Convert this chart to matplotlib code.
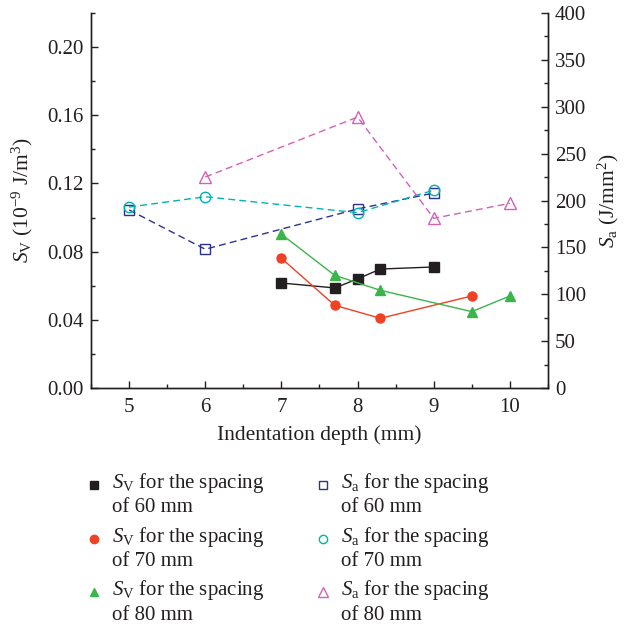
import matplotlib
matplotlib.use("Agg")
import matplotlib.pyplot as plt
from matplotlib.lines import Line2D
from matplotlib.ticker import MultipleLocator
from matplotlib.legend_handler import HandlerLine2D

plt.rcParams['font.family'] = ['Liberation Serif', 'DejaVu Serif']
plt.rcParams['mathtext.fontset'] = 'custom'
plt.rcParams['mathtext.rm'] = 'Liberation Serif'
plt.rcParams['mathtext.it'] = 'Liberation Serif:italic'
plt.rcParams['mathtext.bf'] = 'Liberation Serif:bold'

TXT = '#231f20'

# S_V data (left axis, 10^-9 J/m^3)
sv60_x = [7, 7.7, 8, 8.3, 9]
sv60_y = [0.0616, 0.0587, 0.0640, 0.0698, 0.0710]
sv70_x = [7, 7.7, 8.3, 9.5]
sv70_y = [0.0761, 0.0485, 0.0409, 0.0540]
sv80_x = [7, 7.7, 8.3, 9.5, 10]
sv80_y = [0.0902, 0.0661, 0.0573, 0.0448, 0.0540]

# S_a data (right axis, J/mm^2)
sa60_x = [5, 6, 8, 9]
sa60_y = [190, 148, 191, 208]
sa70_x = [5, 6, 8, 9]
sa70_y = [193, 204, 187, 211]
sa80_x = [6, 8, 9, 10]
sa80_y = [225, 289, 181, 197]

labels = [
    '$S_\\mathrm{V}$ for the spacing\nof 60 mm',
    '$S_\\mathrm{V}$ for the spacing\nof 70 mm',
    '$S_\\mathrm{V}$ for the spacing\nof 80 mm',
    '$S_\\mathrm{a}$ for the spacing\nof 60 mm',
    '$S_\\mathrm{a}$ for the spacing\nof 70 mm',
    '$S_\\mathrm{a}$ for the spacing\nof 80 mm',
]

c_black = '#231f20'
c_red = '#ef4123'
c_green = '#3ab54a'
c_navy = '#2e3192'
c_cyan = '#00b3b3'
c_mag = '#d460b8'

FS = 15

fig = plt.figure(figsize=(6.24, 6.31), dpi=100)
ax = fig.add_axes([91/624, 1-388/631, (548-91)/624, (388-13)/631])
ax2 = ax.twinx()

lw = 1.0
ax.plot(sv60_x, sv60_y, '-', color=c_black, lw=lw, marker='s', ms=7, mfc=c_black, mec=c_black, zorder=5)
ax.plot(sv70_x, sv70_y, '-', color=c_red, lw=lw, marker='o', ms=6.5, mfc=c_red, mec=c_red, zorder=5)
ax.plot(sv80_x, sv80_y, '-', color=c_green, lw=lw, marker='^', ms=7, mfc=c_green, mec=c_green, zorder=5)

ax2.plot(sa60_x, sa60_y, '--', color=c_navy, lw=lw, dashes=(5, 3), marker='s', ms=6.5, mfc='none', mec=c_navy)
ax2.plot(sa70_x, sa70_y, '--', color=c_cyan, lw=lw, dashes=(5, 3), marker='o', ms=7.5, mfc='none', mec=c_cyan)
ax2.plot(sa80_x, sa80_y, '--', color=c_mag, lw=lw, dashes=(5, 3), marker='^', ms=8, mfc='none', mec=c_mag)

ax.set_xlim(4.5, 10.5)
ax.set_ylim(0, 0.22)
ax2.set_ylim(0, 400)

ax.set_xticks([5, 6, 7, 8, 9, 10])
ax.xaxis.set_minor_locator(MultipleLocator(0.5))
ax.set_yticks([0.00, 0.04, 0.08, 0.12, 0.16, 0.20])
ax.yaxis.set_minor_locator(MultipleLocator(0.02))
ax2.set_yticks([0, 50, 100, 150, 200, 250, 300, 350, 400])
ax2.yaxis.set_minor_locator(MultipleLocator(25))

for a in (ax, ax2):
    a.spines['top'].set_visible(False)
    for s in a.spines.values():
        s.set_color(TXT)
        s.set_linewidth(1.0)
    a.tick_params(which='both', direction='in', colors=TXT, labelsize=FS, width=1.0)
    a.tick_params(which='major', length=5)
    a.tick_params(which='minor', length=3)
ax.tick_params(axis='x', pad=7)
ax.tick_params(axis='y', pad=5)
ax2.tick_params(axis='y', pad=5)
ax.yaxis.set_major_formatter(matplotlib.ticker.FormatStrFormatter('%.2f'))

ax.set_xlabel('Indentation depth (mm)', fontsize=15.5, color=TXT, labelpad=6)
ax.set_ylabel('$S_\\mathrm{V}$ (10$^{-9}$ J/m$^3$)', fontsize=15.5, color=TXT, labelpad=9)
ax2.set_ylabel('$S_\\mathrm{a}$ (J/mm$^2$)', fontsize=15.5, color=TXT, labelpad=7)


class UpHandler(HandlerLine2D):
    def create_artists(self, legend, orig_handle, xdescent, ydescent,
                       width, height, fontsize, trans):
        return super().create_artists(legend, orig_handle, xdescent,
                                      ydescent - 12.8, width, height,
                                      fontsize, trans)


handles = [
    Line2D([], [], ls='none', marker='s', ms=6, mfc=c_black, mec=c_black),
    Line2D([], [], ls='none', marker='o', ms=6, mfc=c_red, mec=c_red),
    Line2D([], [], ls='none', marker='^', ms=6, mfc=c_green, mec=c_green),
    Line2D([], [], ls='none', marker='s', ms=6, mfc='none', mec=c_navy),
    Line2D([], [], ls='none', marker='o', ms=6, mfc='none', mec=c_cyan),
    Line2D([], [], ls='none', marker='^', ms=7, mfc='none', mec=c_mag),
]
leg = fig.legend(handles, labels, ncol=2, loc='upper left',
                 bbox_to_anchor=(66/624, 1-452/631), frameon=False,
                 fontsize=FS, handlelength=0.9, handletextpad=0.4,
                 columnspacing=2.38, labelspacing=0.35,
                 handler_map={Line2D: UpHandler()})
for t in leg.get_texts():
    t.set_color(TXT)
    t.set_linespacing(1.25)

fig.savefig('out.png', dpi=100)
